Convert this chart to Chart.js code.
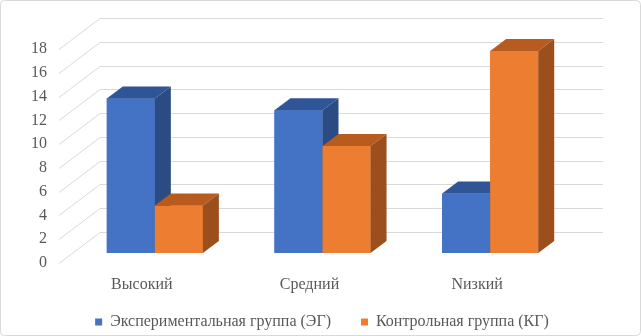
<!DOCTYPE html>
<html>
<head>
<meta charset="utf-8">
<script src="https://cdn.jsdelivr.net/npm/chart.js@4"></script>
<style>
  body { margin: 0; background: #fff; }
</style>
</head>
<body>
<canvas id="myChart" width="641" height="336"></canvas>
<script>
var categories = ['Высокий', 'Средний', 'Nизкий'];
var expGroup = [13, 12, 5];
var ctrlGroup = [4, 9, 17];
var seriesNames = ['Экспериментальная группа (ЭГ)', 'Контрольная группа (КГ)'];
var yTicks = [0, 2, 4, 6, 8, 10, 12, 14, 16, 18];

var serif = "'Liberation Serif', 'Times New Roman', serif";

// 3d look: side and top faces for every bar
var depth = { dx: 16, dy: -12 };
var faceColors = [
    { front: '#4472c4', top: '#2f5597', side: '#2b4b83' },
    { front: '#ed7d31', top: '#b85b1f', side: '#9c4f1c' }
];

var border3d = {
    id: 'border3d',
    beforeDraw: function(chart){
        var c = chart.ctx;
        c.save();
        c.strokeStyle = '#d9d9d9';
        c.lineWidth = 1;
        c.beginPath();
        c.roundRect(0.5, 0.5, chart.width - 1, chart.height - 1, 4);
        c.stroke();
        c.restore();
    },
    beforeDatasetsDraw: function(chart){
        var c = chart.ctx;
        var y = chart.scales.y;
        c.save();
        c.strokeStyle = '#d9d9d9';
        c.lineWidth = 1;
        y.ticks.forEach(function(t){
            var py = Math.round(y.getPixelForValue(t.value));
            c.beginPath();
            c.moveTo(59, py + 10.5);
            c.lineTo(100, py - 20.5);
            c.lineTo(603, py - 20.5);
            c.stroke();
        });
        c.restore();
    },
    // redraw in dataset order so the right bar hides the left bar's side
    afterDatasetsDraw: function(chart){
        var c = chart.ctx;
        c.save();
        chart.data.datasets.forEach(function(ds, i){
            var col = faceColors[i];
            chart.getDatasetMeta(i).data.forEach(function(bar){
                var p = bar.getProps(['x', 'y', 'base', 'width'], true);
                var l = p.x - p.width / 2, r = p.x + p.width / 2;
                c.fillStyle = col.front;
                c.fillRect(l, p.y, p.width, p.base - p.y);
                c.fillStyle = col.top;
                c.beginPath();
                c.moveTo(l, p.y);
                c.lineTo(l + depth.dx, p.y + depth.dy);
                c.lineTo(r + depth.dx, p.y + depth.dy);
                c.lineTo(r, p.y);
                c.closePath();
                c.fill();
                c.fillStyle = col.side;
                c.beginPath();
                c.moveTo(r, p.y);
                c.lineTo(r + depth.dx, p.y + depth.dy);
                c.lineTo(r + depth.dx, p.base + depth.dy);
                c.lineTo(r, p.base);
                c.closePath();
                c.fill();
            });
        });
        c.restore();
    }
};

document.addEventListener('DOMContentLoaded', function(){
    var data = {
        labels: categories,
        datasets: [{
            label: seriesNames[0],
            backgroundColor: faceColors[0].front,
            data: expGroup
        }, {
            label: seriesNames[1],
            backgroundColor: faceColors[1].front,
            data: ctrlGroup
        }]
    };
    var options = {
        responsive: false,
        animation: false,
        layout: { padding: { top: 39, right: 0, bottom: -4, left: 3 } },
        datasets: { bar: { categoryPercentage: 0.573, barPercentage: 1 } },
        plugins: {
            tooltip: { enabled: false },
            legend: {
                position: 'bottom',
                labels: {
                    boxWidth: 7,
                    boxHeight: 7,
                    padding: 30,
                    color: '#595959',
                    font: { family: serif, size: 16 }
                }
            }
        },
        scales: {
            x: {
                grid: { display: false, drawTicks: false },
                border: { display: false },
                ticks: {
                    color: '#595959',
                    font: { family: serif, size: 16 },
                    padding: 22,
                    labelOffset: -13,
                    maxRotation: 0
                },
                afterFit: function(scale){
                    scale.height = 31;
                    // labels hang a little into the legend box, don't clip them
                    scale._computeLabelArea = function(){ return null; };
                }
            },
            y: {
                min: 0,
                max: 18,
                grid: { display: false, drawTicks: false },
                border: { display: false },
                afterBuildTicks: function(scale){
                    scale.ticks = yTicks.map(function(v){ return { value: v }; });
                },
                ticks: {
                    color: '#595959',
                    font: { family: serif, size: 16 },
                    padding: 24,
                    labelOffset: 10
                },
                afterFit: function(scale){ scale.width = 68; }
            },
            // empty space right of the back wall
            yRight: {
                position: 'right',
                grid: { display: false },
                border: { display: false },
                ticks: { display: false },
                afterFit: function(scale){ scale.width = 67; }
            }
        }
    };

    var ctx = document.getElementById('myChart').getContext('2d');
    var myChart = new Chart(ctx, {
        type: 'bar',
        data: data,
        options: options,
        plugins: [border3d]
    });
});
</script>
</body>
</html>
